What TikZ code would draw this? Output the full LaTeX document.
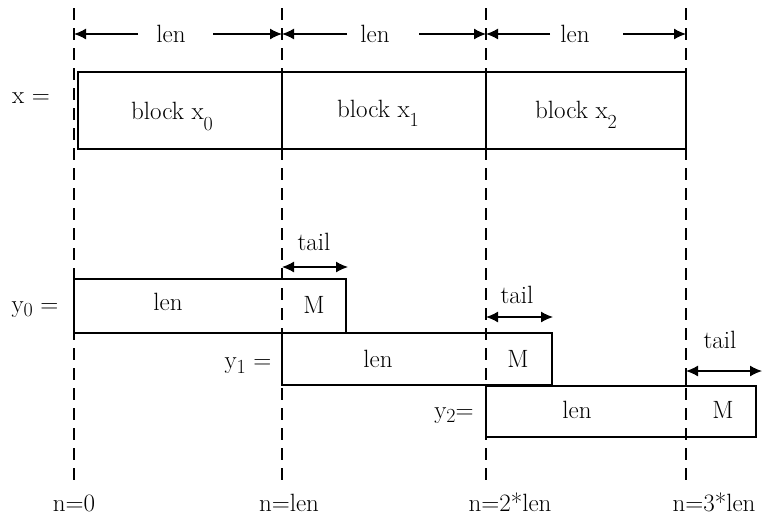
\documentclass[tikz,border=0pt]{standalone}
\usetikzlibrary{arrows.meta}
\newcommand{\lowsub}[2]{\raisebox{#1}{\fontsize{20}{23}\selectfont #2}}
\begin{document}
\begin{tikzpicture}[x=1pt,y=-1pt,
  font=\fontsize{25}{29}\selectfont,
  guide/.style={dash pattern=on 12pt off 8pt, line width=1.1pt},
  box/.style={draw, line width=1.3pt},
  arr/.style={-{Latex[length=12pt,width=11pt]}, line width=1.3pt},
  dbl/.style={{Latex[length=12pt,width=11pt]}-{Latex[length=12pt,width=11pt]}, line width=1.3pt},
  lbl/.style={inner sep=0pt, anchor=base}]
\useasboundingbox (0,0) rectangle (767,517);
% guide lines
\coordinate (g0t) at (74,8);  \coordinate (g0b) at (74,483);
\coordinate (g1t) at (282,8); \coordinate (g1b) at (282,483);
\coordinate (g2t) at (486,8); \coordinate (g2b) at (486,483);
\coordinate (g3t) at (686,8); \coordinate (g3b) at (686,483);
\draw[guide] (g0t) -- (g0b);
\draw[guide] (g1t) -- (g1b);
\draw[guide] (g2t) -- (g2b);
\draw[guide] (g3t) -- (g3b);
% top len arrows
\node[lbl] (len1) at (171,42) {len};
\node[lbl] (len2) at (375,42) {len};
\node[lbl] (len3) at (575,42) {len};
\coordinate (a0) at (74,34);  \coordinate (a1a) at (138,34); \coordinate (a1b) at (213,34);
\coordinate (a1) at (282,34); \coordinate (a2a) at (347,34); \coordinate (a2b) at (419,34);
\coordinate (a2) at (486,34); \coordinate (a3a) at (550,34); \coordinate (a3b) at (623,34);
\coordinate (a3) at (686,34);
\draw[arr] (a1a) -- (a0);
\draw[arr] (a1b) -- (a1);
\draw[arr] (a2a) -- (a1);
\draw[arr] (a2b) -- (a2);
\draw[arr] (a3a) -- (a2);
\draw[arr] (a3b) -- (a3);
% x blocks
\node[box, minimum width=204pt, minimum height=77pt, inner sep=0pt] (bx0) at (180,110.5) {};
\node[box, minimum width=204pt, minimum height=77pt, inner sep=0pt] (bx1) at (384,110.5) {};
\node[box, minimum width=200pt, minimum height=77pt, inner sep=0pt] (bx2) at (586,110.5) {};
\node[lbl] (tx0) at (172,119) {block x\lowsub{-11pt}{0}};
\node[lbl] (tx1) at (378,117) {block x\lowsub{-9pt}{1}};
\node[lbl] (tx2) at (576,118) {block x\lowsub{-10pt}{2}};
\node[lbl] (xeq) at (31,103) {x =};
% y0
\node[box, minimum width=272pt, minimum height=54pt, inner sep=0pt] (by0) at (210,306) {};
\node[lbl] (ly0) at (168,310) {len};
\node[lbl] (m0) at (314,313) {M};
\node[lbl] (yeq0) at (35,312) {y\lowsub{-4pt}{0} =};
\node[lbl] (tail0) at (314,250) {tail};
\coordinate (t0a) at (282,267); \coordinate (t0b) at (348,267);
\draw[dbl] (t0a) -- (t0b);
% y1
\node[box, minimum width=270pt, minimum height=52pt, inner sep=0pt] (by1) at (417,359) {};
\node[lbl] (ly1) at (378,367) {len};
\node[lbl] (m1) at (518,367) {M};
\node[lbl] (yeq1) at (248,368) {y\lowsub{-5pt}{1} =};
\node[lbl] (tail1) at (517,303) {tail};
\coordinate (t1a) at (486,317); \coordinate (t1b) at (553,317);
\draw[dbl] (t1a) -- (t1b);
% y2
\node[box, minimum width=270pt, minimum height=51pt, inner sep=0pt] (by2) at (621,411.5) {};
\node[lbl] (ly2) at (577,418) {len};
\node[lbl] (m2) at (723,418) {M};
\node[lbl] (yeq2) at (454,418) {y\lowsub{-4pt}{2}=};
\node[lbl] (tail2) at (720,348) {tail};
\coordinate (t2a) at (686,371); \coordinate (t2b) at (762,371);
\draw[dbl] (t2a) -- (t2b);
\draw[line width=1.3pt] (t2a) -- (by2.north -| t2a);
% bottom labels
\node[lbl] (n0) at (74,511) {n=0};
\node[lbl] (n1) at (289,511) {n=len};
\node[lbl] (n2) at (510,511) {n=2*len};
\node[lbl] (n3) at (714,511) {n=3*len};
\end{tikzpicture}
\end{document}
